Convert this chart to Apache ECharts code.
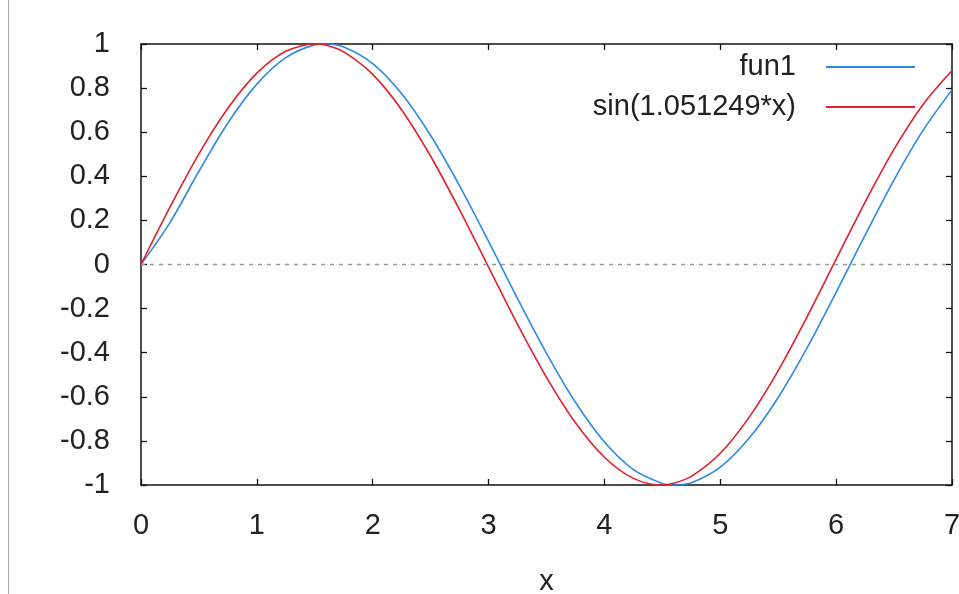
<!DOCTYPE html>
<html>
<head>
<meta charset="utf-8">
<script src="https://cdn.jsdelivr.net/npm/echarts@6/dist/echarts.min.js"></script>
<style>html,body{margin:0;padding:0;background:#fff;}#c{width:959px;height:594px;}</style>
</head>
<body>
<div id="c"></div>
<script>
const xs = [0,0.25,0.5,0.75,1,1.25,1.5,1.6,1.75,2,2.25,2.5,2.75,3,3.25,3.5,3.75,4,4.25,4.5,4.6,4.75,5,5.25,5.5,5.75,6,6.25,6.5,6.75,7];
const fun1 = [0,0.19,0.423,0.642,0.818,0.938,0.996,1.000,0.986,0.911,0.774,0.585,0.357,0.105,-0.155,-0.403,-0.625,-0.805,-0.930,-0.993,-1.000,-0.990,-0.919,-0.787,-0.603,-0.377,-0.126,0.133,0.384,0.608,0.792];
const sinK = [0,0.260,0.502,0.709,0.868,0.967,1.000,0.994,0.964,0.862,0.701,0.491,0.248,-0.012,-0.272,-0.512,-0.718,-0.874,-0.970,-1.000,-0.992,-0.961,-0.856,-0.692,-0.481,-0.236,0.024,0.283,0.523,0.726,0.880];
const seriesNames = ['fun1','sin(1.051249*x)'];
const xTicks = [0,1,2,3,4,5,6,7];
const yTicks = [-1,-0.8,-0.6,-0.4,-0.2,0,0.2,0.4,0.6,0.8,1];

const font = 'Liberation Sans, Arial, sans-serif';
const chart = echarts.init(document.getElementById('c'), null, {renderer:'canvas'});
const pairs = ys => xs.map((x,i)=>[x, ys[i]]);
const axisLine = {show:true, onZero:false, lineStyle:{color:'#111', width:1.5}};
const tick = {show:true, inside:true, length:6, lineStyle:{color:'#111', width:1.3}};
chart.setOption({
  animation:false,
  backgroundColor:'#fff',
  grid:{left:141, right:7, top:44, bottom:109, containLabel:false, outerBoundsMode:'none'},
  graphic:[{type:'line', shape:{x1:8.5,y1:0,x2:8.5,y2:594}, style:{stroke:'#aaa', lineWidth:1}}],
  legend:{
    orient:'vertical', right:39, top:47, align:'right',
    icon:'rect', itemWidth:89, itemHeight:2, itemGap:10,
    textStyle:{fontFamily:font, fontSize:29, color:'#222', lineHeight:30, padding:[0,25,0,0]},
    data:seriesNames
  },
  xAxis:[
    {type:'value', min:xTicks[0], max:xTicks[xTicks.length-1], interval:1, position:'bottom',
     name:'x', nameLocation:'middle', nameGap:82, nameTextStyle:{fontFamily:font, fontSize:29, color:'#222'},
     axisLine:axisLine, axisTick:tick, splitLine:{show:false},
     axisLabel:{fontFamily:font, fontSize:29, color:'#222', margin:26}},
    {type:'value', min:0, max:7, interval:1, position:'top',
     axisLine:axisLine, axisTick:tick, splitLine:{show:false}, axisLabel:{show:false}}
  ],
  yAxis:[
    {type:'value', min:yTicks[0], max:yTicks[yTicks.length-1], interval:0.2, position:'left',
     axisLine:axisLine, axisTick:tick, splitLine:{show:false},
     axisLabel:{fontFamily:font, fontSize:29, color:'#222', margin:31,
       formatter:v=>String(Math.round(v*10)/10)}},
    {type:'value', min:-1, max:1, interval:0.2, position:'right',
     axisLine:axisLine, axisTick:tick, splitLine:{show:false}, axisLabel:{show:false}}
  ],
  series:[
    {name:seriesNames[0], type:'line', data:pairs(fun1), smooth:0.3, showSymbol:false,
     itemStyle:{color:'#2d8ae4'}, lineStyle:{color:'#2d8ae4', width:1.6},
     markLine:{silent:true, symbol:'none', label:{show:false},
       lineStyle:{color:'#999', type:[4,5], width:1.3}, data:[{yAxis:0}]}},
    {name:seriesNames[1], type:'line', data:pairs(sinK), smooth:0.3, showSymbol:false,
     itemStyle:{color:'#e3202a'}, lineStyle:{color:'#e3202a', width:1.6}}
  ]
});
</script>
</body>
</html>
